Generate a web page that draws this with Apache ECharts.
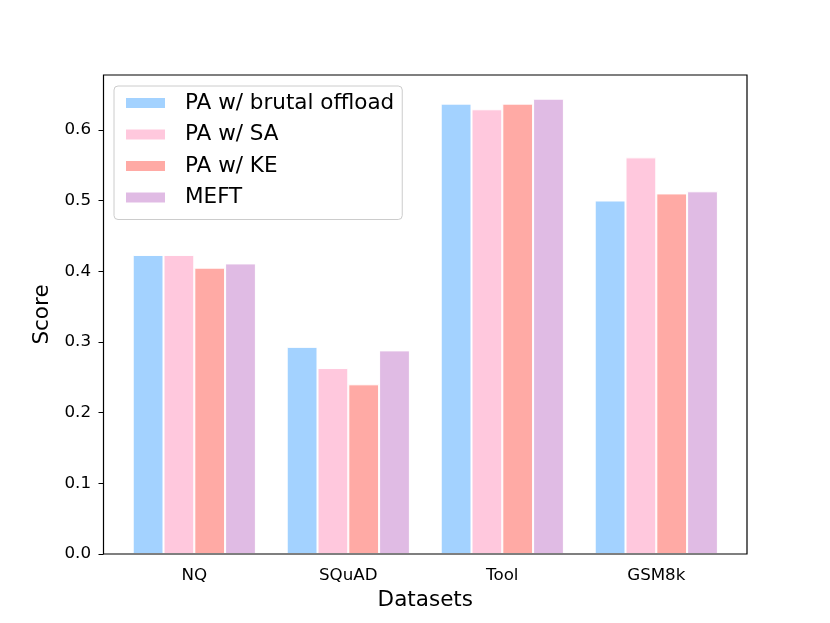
<!DOCTYPE html>
<html lang="en">
<head>
  <meta charset="UTF-8">
  <title>Score by dataset</title>
  <style>
    html, body { margin: 0; padding: 0; background: #fff; }
    #chart { width: 830px; height: 623px; }
  </style>
</head>
<body>
  <div id="chart"></div>
  <script src="https://cdn.jsdelivr.net/npm/echarts@6/dist/echarts.min.js"></script>
  <script>
    // data
    var datasets = ['NQ', 'SQuAD', 'Tool', 'GSM8k'];
    var brutalOffload = [0.423, 0.293, 0.637, 0.500];
    var withSA = [0.423, 0.263, 0.629, 0.561];
    var withKE = [0.405, 0.240, 0.637, 0.510];
    var meft = [0.411, 0.288, 0.644, 0.513];
    var yTicks = [0, 0.1, 0.2, 0.3, 0.4, 0.5, 0.6];

    var font = 'DejaVu Sans';
    var chart = echarts.init(document.getElementById('chart'));

    function barSeries(name, data, color) {
      return {
        name: name,
        type: 'bar',
        data: data,
        barWidth: 30.8,
        barGap: '0%',
        itemStyle: { color: color, borderColor: '#fff', borderWidth: 1 },
        emphasis: { disabled: true }
      };
    }

    var option = {
      backgroundColor: '#fff',
      animation: false,
      textStyle: { fontFamily: font },
      grid: { left: 117.3, right: 96.7, top: 75, bottom: 69 },
      legend: {
        orient: 'vertical',
        left: 114,
        top: 86,
        padding: [6, 8, 11, 10],
        icon: 'rect',
        itemWidth: 41,
        itemHeight: 12,
        itemGap: 9.5,
        borderColor: '#ccc',
        borderWidth: 1,
        borderRadius: 4,
        backgroundColor: 'rgba(255,255,255,0.8)',
        textStyle: { fontFamily: font, fontSize: 21.5, color: '#000', lineHeight: 22, padding: [0, 0, 0, 14] },
        data: ['PA w/ brutal offload', 'PA w/ SA', 'PA w/ KE', 'MEFT']
      },
      xAxis: {
        type: 'category',
        data: datasets,
        name: 'Datasets',
        nameLocation: 'middle',
        nameGap: 35,
        nameTextStyle: { fontFamily: font, fontSize: 21.5, color: '#000' },
        axisLine: { show: false },
        axisTick: { alignWithLabel: true, length: 5, lineStyle: { color: '#000', width: 1 } },
        axisLabel: { fontFamily: font, fontSize: 16.7, color: '#000', margin: 13 },
        splitLine: { show: false }
      },
      yAxis: {
        type: 'value',
        min: 0,
        max: 0.6775,
        interval: 0.1,
        offset: 13.8,
        name: 'Score',
        nameLocation: 'middle',
        nameGap: 50,
        nameTextStyle: { fontFamily: font, fontSize: 21.5, color: '#000' },
        axisLine: { show: false },
        axisTick: { show: true, length: 5, customValues: yTicks, lineStyle: { color: '#000', width: 1 } },
        axisLabel: {
          fontFamily: font, fontSize: 16.7, color: '#000', margin: 12.5,
          customValues: yTicks,
          formatter: function (v) { return v.toFixed(1); }
        },
        splitLine: { show: false }
      },
      graphic: [{
        type: 'rect',
        silent: true,
        z: 100,
        shape: { x: 103.5, y: 75, width: 643.5, height: 479 },
        style: { fill: null, stroke: '#000', lineWidth: 1.2 }
      }],
      series: [
        barSeries('PA w/ brutal offload', brutalOffload, '#a3d2ff'),
        barSeries('PA w/ SA', withSA, '#ffc8dd'),
        barSeries('PA w/ KE', withKE, '#ffaaa5'),
        barSeries('MEFT', meft, '#e0bbe4')
      ]
    };

    chart.setOption(option);
  </script>
</body>
</html>
